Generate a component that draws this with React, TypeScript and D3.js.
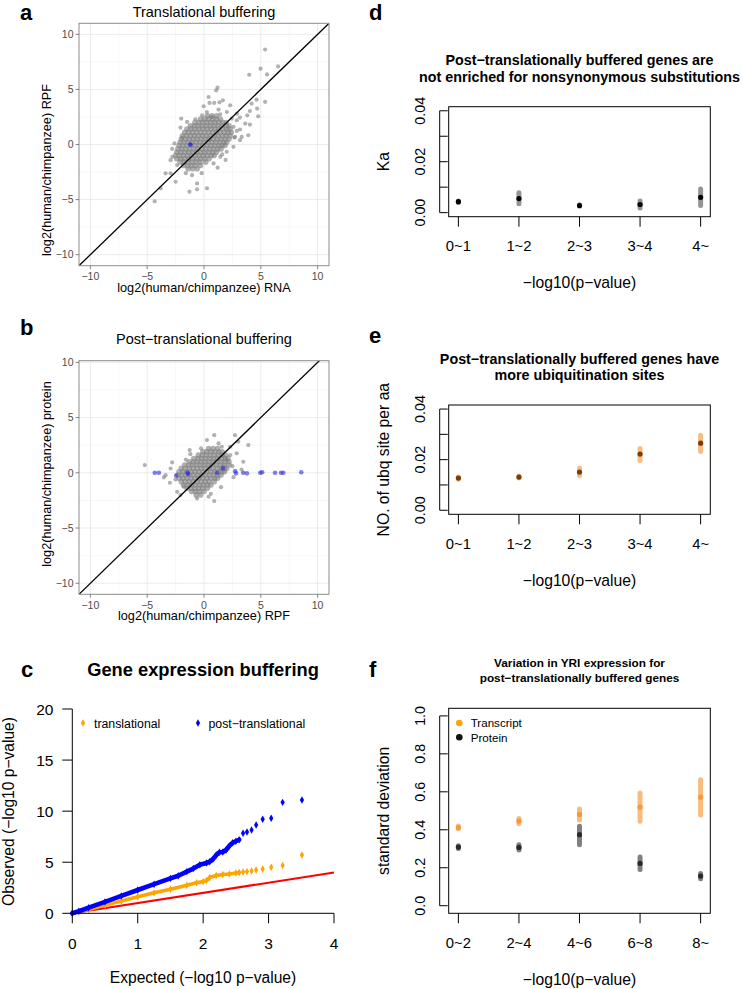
import React from "react";
import * as d3 from "d3";

// ---------- Panel a / b : scatter data (log2 human/chimp) ----------
const scatterTicks = [-10, -5, 0, 5, 10];
const scatterMinor = [-7.5, -2.5, 2.5, 7.5];

const coreA: [number, number[]][] = [
  [2.6, [0.3, 0.7, 1.1]],
  [2.3, [-0.3, 0.05, 0.4, 0.75, 1.1, 1.45]],
  [2.0, [-0.8, -0.45, -0.1, 0.25, 0.6, 0.95, 1.3, 1.65, 1.95]],
  [1.7, [-1.2, -0.85, -0.5, -0.15, 0.2, 0.55, 0.9, 1.25, 1.6, 1.95, 2.2]],
  [1.4, [-1.5, -1.15, -0.8, -0.45, -0.1, 0.25, 0.6, 0.95, 1.3, 1.65, 2.0, 2.3]],
  [1.1, [-1.7, -1.35, -1.0, -0.65, -0.3, 0.05, 0.4, 0.75, 1.1, 1.45, 1.8, 2.1, 2.4]],
  [0.8, [-1.9, -1.55, -1.2, -0.85, -0.5, -0.15, 0.2, 0.55, 0.9, 1.25, 1.6, 1.95, 2.3]],
  [0.5, [-2.0, -1.65, -1.3, -0.95, -0.6, -0.25, 0.1, 0.45, 0.8, 1.15, 1.5, 1.85, 2.2]],
  [0.2, [-2.1, -1.75, -1.4, -1.05, -0.7, -0.35, 0.0, 0.35, 0.7, 1.05, 1.4, 1.75, 2.0]],
  [-0.1, [-2.2, -1.85, -1.5, -1.15, -0.8, -0.45, -0.1, 0.25, 0.6, 0.95, 1.3, 1.6, 1.85]],
  [-0.4, [-2.3, -1.95, -1.6, -1.25, -0.9, -0.55, -0.2, 0.15, 0.5, 0.85, 1.2, 1.5]],
  [-0.7, [-2.4, -2.05, -1.7, -1.35, -1.0, -0.65, -0.3, 0.05, 0.4, 0.75, 1.1]],
  [-1.0, [-2.5, -2.15, -1.8, -1.45, -1.1, -0.75, -0.4, -0.05, 0.3, 0.65, 0.9]],
  [-1.3, [-2.4, -2.05, -1.7, -1.35, -1.0, -0.65, -0.3, 0.05, 0.45]],
  [-1.6, [-2.1, -1.75, -1.4, -1.05, -0.7, -0.35, 0.15]],
  [-1.9, [-1.8, -1.45, -1.1, -0.75, -0.3]],
  [-2.2, [-1.4, -1.0, -0.6]],
];

const outliersA: [number, number][] = [
  [5.38, 8.62], [4.98, 6.88], [6.52, 7.09], [3.98, 6.33], [5.55, 6.36],
  [5.38, 3.86], [4.63, 4.07], [1.19, 5.16], [1.07, 4.91], [0.4, 4.31],
  [1.36, 3.83], [1.66, 4.01], [0.9, 3.77], [2.3, 3.56], [4.19, 3.71],
  [4.77, 2.56], [4.04, 3.04], [3.81, 2.65], [4.68, 3.26], [3.63, 1.9],
  [4.04, 1.81], [3.17, 1.36], [3.9, 0.84], [3.32, 0.69], [2.67, 0.63],
  [2.88, 1.23], [0.26, 2.95], [-0.17, 2.65], [0.7, 2.5], [1.42, 2.74],
  [2.01, 2.95], [-1.49, 2.05], [-2.07, 1.54], [-0.76, 2.29], [-0.03, 3.47],
  [0.49, 3.77], [1.28, 3.17], [2.44, 2.35], [2.88, 2.2], [3.17, 2.44],
  [-2.0, 2.35], [-1.92, 0.63], [-2.79, -1.12], [-2.94, -1.42], [-2.36, -1.87],
  [-3.38, -2.62], [-2.94, -2.62], [-2.5, -3.38], [-3.81, -3.98], [-4.34, -5.16],
  [-1.28, -4.28], [-0.61, -4.07], [0.26, -3.98], [-0.61, -3.53], [-1.05, -2.78],
  [0.84, -1.72], [1.43, -1.12], [2.0, -0.66], [2.59, -0.21], [3.17, 0.39],
  [2.74, 0.69], [2.6, 1.6], [1.9, -1.4], [1.2, -2.1], [-0.2, -2.6],
  [-2.6, 0.1], [-2.8, -0.4], [2.9, 2.8], [1.6, -0.9], [-1.6, -2.6],
];

const bufferedA: [number, number][] = [[-1.2, 0.0]];

const coreB: [number, number[]][] = [
  [2.2, [0.4, 0.8, 1.2]],
  [1.9, [-0.1, 0.25, 0.6, 0.95, 1.3, 1.6]],
  [1.6, [-0.5, -0.15, 0.2, 0.55, 0.9, 1.25, 1.6, 1.9]],
  [1.3, [-0.9, -0.55, -0.2, 0.15, 0.5, 0.85, 1.2, 1.55, 1.85, 2.1]],
  [1.0, [-1.3, -0.95, -0.6, -0.25, 0.1, 0.45, 0.8, 1.15, 1.5, 1.85, 2.2]],
  [0.7, [-1.7, -1.35, -1.0, -0.65, -0.3, 0.05, 0.4, 0.75, 1.1, 1.45, 1.8, 2.2]],
  [0.4, [-2.0, -1.65, -1.3, -0.95, -0.6, -0.25, 0.1, 0.45, 0.8, 1.15, 1.5, 1.8, 2.0]],
  [0.1, [-2.2, -1.85, -1.5, -1.15, -0.8, -0.45, -0.1, 0.25, 0.6, 0.95, 1.3, 1.6, 1.8]],
  [-0.2, [-2.3, -1.95, -1.6, -1.25, -0.9, -0.55, -0.2, 0.15, 0.5, 0.85, 1.2, 1.5]],
  [-0.5, [-2.2, -1.85, -1.5, -1.15, -0.8, -0.45, -0.1, 0.25, 0.6, 0.95, 1.2]],
  [-0.8, [-2.0, -1.65, -1.3, -0.95, -0.6, -0.25, 0.1, 0.45, 0.9]],
  [-1.1, [-1.8, -1.45, -1.1, -0.75, -0.4, -0.05, 0.3, 0.6]],
  [-1.4, [-1.5, -1.15, -0.8, -0.45, -0.1, 0.3]],
  [-1.7, [-1.1, -0.75, -0.4, 0.0]],
  [-2.0, [-0.7, -0.3]],
];

const outliersB: [number, number][] = [
  [-5.21, 0.7], [0.9, 3.41], [-1.26, 2.06], [-1.2, 1.69], [-0.26, 2.21],
  [-2.8, 0.94], [-3.38, -0.21], [-3.53, -0.42], [2.73, 3.41], [3.02, 2.81],
  [3.9, 2.51], [2.88, 1.76], [3.46, 1.0], [0.9, -2.56], [0.4, -2.17],
  [-0.61, -2.32], [-2.07, -2.02], [-2.36, -1.72], [-1.78, -1.27], [1.71, 0.54],
  [2.01, 1.15], [2.3, 1.6], [1.57, 2.36], [0.26, 2.96], [1.28, 2.66],
  [2.3, 2.36], [-2.94, 0.39], [-2.5, -0.6], [3.3, 0.3], [2.6, -0.4],
  [1.5, -1.3], [-3.0, -0.9], [2.5, 0.6], [-1.6, 1.2], [0.6, -1.9],
];

const bufferedB: [number, number][] = [
  [-4.33, 0.0], [-3.97, 0.0], [-2.45, -0.25], [-1.45, 0.0], [-1.4, -0.1],
  [1.15, 0.0], [1.65, 0.4], [2.74, 0.15], [2.82, -0.05], [3.45, 0.0],
  [3.78, -0.05], [4.95, 0.0], [5.12, 0.05], [6.25, 0.0], [6.78, 0.0],
  [6.98, 0.0], [8.56, 0.05],
];

// ---------- Panel c : QQ plot ----------
const qqXTicks = [0, 1, 2, 3, 4];
const qqYTicks = [0, 5, 10, 15, 20];
const transDense: [number, number][] = [
  [0, 0], [0.25, 0.38], [0.5, 0.8], [0.75, 1.2], [1.0, 1.62], [1.25, 2.0],
  [1.5, 2.35], [1.75, 2.75], [1.9, 3.0], [2.0, 3.1], [2.05, 3.2], [2.1, 3.5],
  [2.2, 3.7], [2.3, 3.8], [2.4, 3.85], [2.5, 3.95], [2.55, 4.0],
];
const transSparse: [number, number][] = [
  [2.61, 4.05], [2.67, 4.08], [2.74, 4.14], [2.81, 4.24], [2.91, 4.34],
  [3.04, 4.5], [3.215, 4.67], [3.51, 5.71],
];
const postDense: [number, number][] = [
  [0, 0], [0.1, 0.2], [0.25, 0.55], [0.5, 1.12], [0.75, 1.7], [1.0, 2.28],
  [1.25, 2.85], [1.5, 3.42], [1.62, 3.68], [1.75, 4.08], [1.85, 4.38],
  [1.95, 4.75], [2.05, 4.92], [2.1, 5.05], [2.15, 5.3], [2.2, 5.7],
  [2.25, 5.97], [2.3, 6.0], [2.35, 6.2], [2.4, 6.6], [2.45, 6.9], [2.5, 7.05],
  [2.55, 7.2],
];
const postSparse: [number, number][] = [
  [2.61, 7.83], [2.67, 7.96], [2.74, 8.16], [2.81, 8.65], [2.91, 9.2],
  [3.04, 9.3], [3.215, 10.86], [3.51, 11.09],
];
const nullLine: [number, number][] = [[0, 0], [4, 4]];

// ---------- Panels d, e, f ----------
const pBins5 = ["0~1", "1~2", "2~3", "3~4", "4~"];
const pBinsF = ["0~2", "2~4", "4~6", "6~8", "8~"];
const smallYTicks = [0, 0.01, 0.02, 0.03, 0.04];
const smallYLabels = ["0.00", "", "0.02", "", "0.04"];
const sdTicks = [0, 0.2, 0.4, 0.6, 0.8, 1.0];
const sdLabels = ["0.0", "0.2", "0.4", "0.6", "0.8", "1.0"];

const kaValues = [0.0043, 0.0055, 0.0028, 0.0032, 0.006];
const kaLow = [0.004, 0.0035, 0.0025, 0.0018, 0.0028];
const kaHigh = [0.0046, 0.0078, 0.0031, 0.0046, 0.0093];

const ubqValues = [0.0127, 0.0131, 0.0151, 0.0222, 0.0265];
const ubqLow = [0.0123, 0.0127, 0.0137, 0.0197, 0.0232];
const ubqHigh = [0.0131, 0.0135, 0.0166, 0.0244, 0.0296];

const transcriptSd = [0.412, 0.446, 0.481, 0.519, 0.572];
const transcriptLow = [0.405, 0.432, 0.452, 0.445, 0.478];
const transcriptHigh = [0.42, 0.46, 0.51, 0.594, 0.664];
const proteinSd = [0.309, 0.307, 0.374, 0.223, 0.156];
const proteinLow = [0.302, 0.294, 0.321, 0.191, 0.142];
const proteinHigh = [0.316, 0.321, 0.419, 0.256, 0.17];

const FONT = "'Liberation Sans', Arial, Helvetica, sans-serif";

type ScatterProps = {
  id: string;
  top: number;
  bottom: number;
  yMax: number;
  core: [number, number[]][];
  outliers: [number, number][];
  hits: [number, number][];
  hitOpacity: number;
  title: string;
  titleY: number;
  xTitle: string;
  xTitleY: number;
  yTitle: string;
  yTitleCY: number;
  label: string;
  labelY: number;
};

function GGScatter(p: ScatterProps) {
  const left = 79;
  const right = 329;
  const xs = d3.scaleLinear().domain([-11, 11]).range([left, right]);
  const ys = d3.scaleLinear().domain([-11, p.yMax]).range([p.bottom, p.top]);
  const corePts: [number, number][] = [];
  p.core.forEach(([y, xsArr]) => xsArr.forEach((x) => corePts.push([x, y])));
  const line = d3.line<[number, number]>().x((d) => xs(d[0])).y((d) => ys(d[1]));
  return (
    <g>
      <defs>
        <clipPath id={p.id}>
          <rect x={left} y={p.top} width={right - left} height={p.bottom - p.top} />
        </clipPath>
      </defs>
      <text x={20} y={p.labelY} fontSize={22} fontWeight="bold" fontFamily={FONT}>{p.label}</text>
      <text x={(left + right) / 2} y={p.titleY} fontSize={14.5} textAnchor="middle" fontFamily={FONT}>{p.title}</text>
      <rect x={left} y={p.top} width={right - left} height={p.bottom - p.top} fill="#fff" />
      <g clipPath={`url(#${p.id})`}>
        {scatterMinor.map((t) => (
          <g key={"m" + t}>
            <line x1={xs(t)} x2={xs(t)} y1={p.top} y2={p.bottom} stroke="#f4f4f4" strokeWidth={0.6} />
            <line x1={left} x2={right} y1={ys(t)} y2={ys(t)} stroke="#f4f4f4" strokeWidth={0.6} />
          </g>
        ))}
        {scatterTicks.map((t) => (
          <g key={"M" + t}>
            <line x1={xs(t)} x2={xs(t)} y1={p.top} y2={p.bottom} stroke="#ebebeb" strokeWidth={1} />
            <line x1={left} x2={right} y1={ys(t)} y2={ys(t)} stroke="#ebebeb" strokeWidth={1} />
          </g>
        ))}
        {p.outliers.map((d, i) => (
          <circle key={"o" + i} cx={xs(d[0])} cy={ys(d[1])} r={2.1} fill="#7f7f7f" fillOpacity={0.6} />
        ))}
        {corePts.map((d, i) => (
          <circle key={"c" + i} cx={xs(d[0])} cy={ys(d[1])} r={2.8} fill="#7f7f7f" fillOpacity={0.62} />
        ))}
        {p.hits.map((d, i) => (
          <circle key={"h" + i} cx={xs(d[0])} cy={ys(d[1])} r={2.3} fill="#2b2bd9" fillOpacity={p.hitOpacity} />
        ))}
        <path d={line([[-11, -11], [11, 11]]) || ""} stroke="#000" strokeWidth={1.3} fill="none" />
      </g>
      <rect x={left} y={p.top} width={right - left} height={p.bottom - p.top} fill="none" stroke="#8c8c8c" strokeWidth={1} />
      {scatterTicks.map((t) => (
        <g key={"xt" + t}>
          <line x1={xs(t)} x2={xs(t)} y1={p.bottom} y2={p.bottom + 3.5} stroke="#555" strokeWidth={0.7} />
          <text x={xs(t)} y={p.bottom + 14.5} fontSize={10.5} fill="#4d4d4d" textAnchor="middle" fontFamily={FONT}>
            {t < 0 ? "\u2212" + Math.abs(t) : String(t)}
          </text>
        </g>
      ))}
      {scatterTicks.map((t) => (
        <g key={"yt" + t}>
          <line x1={left - 3.5} x2={left} y1={ys(t)} y2={ys(t)} stroke="#555" strokeWidth={0.7} />
          <text x={left - 5.5} y={ys(t) + 3.7} fontSize={10.5} fill="#4d4d4d" textAnchor="end" fontFamily={FONT}>
            {t < 0 ? "\u2212" + Math.abs(t) : String(t)}
          </text>
        </g>
      ))}
      <text x={(left + right) / 2} y={p.xTitleY} fontSize={12.7} textAnchor="middle" fontFamily={FONT}>{p.xTitle}</text>
      <text transform={`translate(51,${p.yTitleCY}) rotate(-90)`} fontSize={12.7} textAnchor="middle" fontFamily={FONT}>{p.yTitle}</text>
    </g>
  );
}

function QQPanel() {
  const xs = d3.scaleLinear().domain([0, 4]).range([72.3, 334]);
  const ys = d3.scaleLinear().domain([0, 20]).range([913.3, 709]);
  const line = d3.line<[number, number]>().x((d) => xs(d[0])).y((d) => ys(d[1]));
  const diamond = d3.symbol(d3.symbolDiamond, 16)() || "";
  return (
    <g fontFamily={FONT}>
      <text x={21} y={676.5} fontSize={22} fontWeight="bold">c</text>
      <text x={203} y={676} fontSize={18.3} fontWeight="bold" textAnchor="middle">Gene expression buffering</text>
      <path d={line(nullLine) || ""} stroke="#ff0000" strokeWidth={2} fill="none" />
      <path d={line(transDense) || ""} stroke="#ffa500" strokeWidth={3.6} fill="none" strokeLinejoin="round" strokeLinecap="round" />
      {transDense.concat(transSparse).map((d, i) => (
        <path key={"t" + i} d={diamond} transform={`translate(${xs(d[0])},${ys(d[1])})`} fill="#ffa500" />
      ))}
      <path d={line(postDense) || ""} stroke="#0000ff" strokeWidth={4.6} fill="none" strokeLinejoin="round" strokeLinecap="round" />
      {postDense.concat(postSparse).map((d, i) => (
        <path key={"p" + i} d={diamond} transform={`translate(${xs(d[0])},${ys(d[1])})`} fill="#0000ff" />
      ))}
      <line x1={xs(0)} x2={xs(4)} y1={ys(0)} y2={ys(0)} stroke="#000" strokeWidth={1} />
      <line x1={xs(0)} x2={xs(0)} y1={ys(0)} y2={ys(20)} stroke="#000" strokeWidth={1} />
      {qqXTicks.map((t) => (
        <g key={"x" + t}>
          <line x1={xs(t)} x2={xs(t)} y1={ys(0)} y2={ys(0) + 10} stroke="#000" />
          <text x={xs(t)} y={948.5} fontSize={15.5} textAnchor="middle">{t}</text>
        </g>
      ))}
      {qqYTicks.map((t) => (
        <g key={"y" + t}>
          <line x1={xs(0) - 10} x2={xs(0)} y1={ys(t)} y2={ys(t)} stroke="#000" />
          <text x={53.5} y={ys(t) + 5.5} fontSize={15.5} textAnchor="end">{t}</text>
        </g>
      ))}
      <path d={diamond} transform="translate(83,723)" fill="#ffa500" />
      <text x={94} y={727.5} fontSize={12.3}>translational</text>
      <path d={diamond} transform="translate(198,723)" fill="#0000ff" />
      <text x={208.5} y={727.5} fontSize={12.3}>post{"\u2212"}translational</text>
      <text x={203} y={983} fontSize={15.6} textAnchor="middle">Expected ({"\u2212"}log10 p{"\u2212"}value)</text>
      <text transform="translate(13.5,811.5) rotate(-90)" fontSize={15.6} textAnchor="middle">Observed ({"\u2212"}log10 p{"\u2212"}value)</text>
    </g>
  );
}

type Series = {
  values: number[];
  low: number[];
  high: number[];
  barColor: string;
  barOpacity: number;
  pointColor: string;
};

type DotProps = {
  label: string;
  labelY: number;
  titleLines: string[];
  titleSize: number;
  titleYs: number[];
  top: number;
  bottom: number;
  yDomain: [number, number];
  yTicks: number[];
  yLabels: string[];
  cats: string[];
  series: Series[];
  yTitle: string;
  legend?: { text: string; color: string }[];
};

function DotPanel(p: DotProps) {
  const left = 448.7;
  const right = 710.3;
  const xs = d3.scaleLinear().domain([-0.16, 4.16]).range([left, right]);
  const ys = d3.scaleLinear().domain(p.yDomain).range([p.bottom, p.top]);
  const cx = (left + right) / 2;
  const axisX = 439.7;
  return (
    <g fontFamily={FONT}>
      <text x={369} y={p.labelY} fontSize={22} fontWeight="bold">{p.label}</text>
      {p.titleLines.map((t, i) => (
        <text key={i} x={cx} y={p.titleYs[i]} fontSize={p.titleSize} fontWeight="bold" textAnchor="middle">{t}</text>
      ))}
      {p.series.map((s, si) => (
        <g key={si}>
          {s.values.map((v, i) => (
            <line key={"b" + i} x1={xs(i)} x2={xs(i)} y1={ys(s.low[i])} y2={ys(s.high[i])} stroke={s.barColor} strokeOpacity={s.barOpacity} strokeWidth={5} strokeLinecap="round" />
          ))}
          {s.values.map((v, i) => (
            <circle key={"p" + i} cx={xs(i)} cy={ys(v)} r={2.6} fill={s.pointColor} />
          ))}
        </g>
      ))}
      <rect x={left} y={p.top} width={right - left} height={p.bottom - p.top} fill="none" stroke="#000" strokeWidth={1} />
      <line x1={axisX} x2={axisX} y1={ys(p.yTicks[0])} y2={ys(p.yTicks[p.yTicks.length - 1])} stroke="#000" />
      {p.yTicks.map((t, i) => (
        <g key={"y" + i}>
          <line x1={axisX} x2={left - 1} y1={ys(t)} y2={ys(t)} stroke="#000" />
          {p.yLabels[i] ? (
            <text transform={`translate(${424.5},${ys(t)}) rotate(-90)`} fontSize={14.3} textAnchor="middle">{p.yLabels[i]}</text>
          ) : null}
        </g>
      ))}
      {p.cats.map((c, i) => (
        <g key={"x" + i}>
          <line x1={xs(i)} x2={xs(i)} y1={p.bottom} y2={p.bottom + 10} stroke="#000" />
          <text x={xs(i)} y={p.bottom + 34.5} fontSize={14.8} textAnchor="middle">{c}</text>
        </g>
      ))}
      <text x={cx} y={p.bottom + 71.5} fontSize={15.7} textAnchor="middle">{"\u2212"}log10(p{"\u2212"}value)</text>
      <text transform={`translate(${389},${(p.top + p.bottom) / 2}) rotate(-90)`} fontSize={15.7} textAnchor="middle">{p.yTitle}</text>
      {p.legend
        ? p.legend.map((l, i) => (
            <g key={"l" + i}>
              <circle cx={459.3} cy={p.top + 14.7 + i * 14.3} r={3.3} fill={l.color} />
              <text x={470.7} y={p.top + 19 + i * 14.3} fontSize={11.6}>{l.text}</text>
            </g>
          ))
        : null}
    </g>
  );
}

export default function App() {
  return (
    <svg width={743} height={989} style={{ position: "absolute", left: 0, top: 0, background: "#fff" }}>
      <rect x={0} y={0} width={743} height={989} fill="#fff" />
      <GGScatter
        id="clipA"
        top={23.3}
        bottom={265.7}
        yMax={11}
        core={coreA}
        outliers={outliersA}
        hits={bufferedA}
        hitOpacity={0.85}
        title="Translational buffering"
        titleY={17}
        xTitle="log2(human/chimpanzee) RNA"
        xTitleY={292}
        yTitle="log2(human/chimpanzee) RPF"
        yTitleCY={170}
        label="a"
        labelY={20}
      />
      <GGScatter
        id="clipB"
        top={360.7}
        bottom={594.3}
        yMax={10.15}
        core={coreB}
        outliers={outliersB}
        hits={bufferedB}
        hitOpacity={0.6}
        title={"Post\u2212translational buffering"}
        titleY={344}
        xTitle="log2(human/chimpanzee) RPF"
        xTitleY={620}
        yTitle="log2(human/chimpanzee) protein"
        yTitleCY={474}
        label="b"
        labelY={335}
      />
      <QQPanel />
      <DotPanel
        label="d"
        labelY={20}
        titleLines={["Post\u2212translationally buffered genes are", "not enriched for nonsynonymous substitutions"]}
        titleSize={14.3}
        titleYs={[65, 82]}
        top={106.7}
        bottom={216.7}
        yDomain={[-0.0016, 0.0416]}
        yTicks={smallYTicks}
        yLabels={smallYLabels}
        cats={pBins5}
        series={[{ values: kaValues, low: kaLow, high: kaHigh, barColor: "#8a8a8a", barOpacity: 0.9, pointColor: "#000" }]}
        yTitle="Ka"
      />
      <DotPanel
        label="e"
        labelY={343}
        titleLines={["Post\u2212translationally buffered genes have", "more ubiquitination sites"]}
        titleSize={14.3}
        titleYs={[363.5, 380]}
        top={405}
        bottom={514.3}
        yDomain={[-0.0016, 0.0416]}
        yTicks={smallYTicks}
        yLabels={smallYLabels}
        cats={pBins5}
        series={[{ values: ubqValues, low: ubqLow, high: ubqHigh, barColor: "#f5a55c", barOpacity: 0.75, pointColor: "#7a3d05" }]}
        yTitle="NO. of ubq site per aa"
      />
      <DotPanel
        label="f"
        labelY={676.5}
        titleLines={["Variation in YRI expression for", "post\u2212translationally buffered genes"]}
        titleSize={11.8}
        titleYs={[667, 681.5]}
        top={708.3}
        bottom={913.3}
        yDomain={[-0.04, 1.04]}
        yTicks={sdTicks}
        yLabels={sdLabels}
        cats={pBinsF}
        series={[
          { values: transcriptSd, low: transcriptLow, high: transcriptHigh, barColor: "#f7a048", barOpacity: 0.7, pointColor: "#f29a3c" },
          { values: proteinSd, low: proteinLow, high: proteinHigh, barColor: "#555555", barOpacity: 0.75, pointColor: "#2a2a2a" },
        ]}
        yTitle="standard deviation"
        legend={[
          { text: "Transcript", color: "#ffa500" },
          { text: "Protein", color: "#111" },
        ]}
      />
    </svg>
  );
}
